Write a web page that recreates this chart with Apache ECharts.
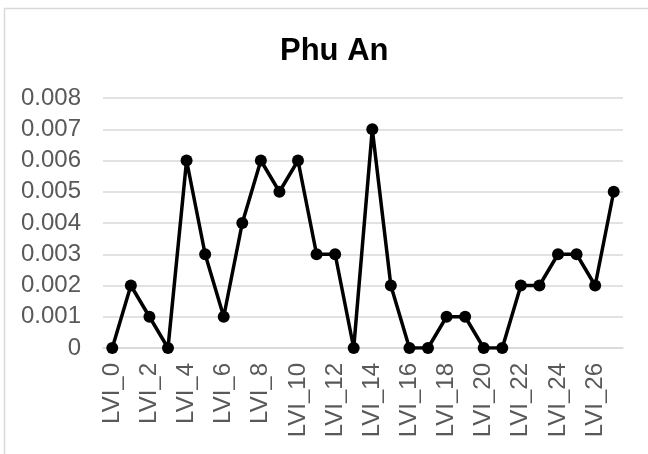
<!DOCTYPE html>
<html>
<head>
<meta charset="UTF-8">
<title>Phu An</title>
<script src="https://cdn.jsdelivr.net/npm/echarts@6/dist/echarts.min.js"></script>
<style>
  html, body { margin: 0; padding: 0; background: #fff; }
  #chart { width: 648px; height: 454px; }
</style>
</head>
<body>
<div id="chart"></div>
<script>
// data
var categories = [];
for (var i = 0; i < 28; i++) categories.push('LVI_' + i);
var values = [0, 0.002, 0.001, 0, 0.006, 0.003, 0.001, 0.004, 0.006, 0.005,
              0.006, 0.003, 0.003, 0, 0.007, 0.002, 0, 0, 0.001, 0.001,
              0, 0, 0.002, 0.002, 0.003, 0.003, 0.002, 0.005];
var yTicks = [0, 0.001, 0.002, 0.003, 0.004, 0.005, 0.006, 0.007, 0.008];

var chart = echarts.init(document.getElementById('chart'));
var font = "'Liberation Sans', Arial, sans-serif";

var option = {
  animation: false,
  title: {
    text: 'Phu An',
    left: 275,
    top: 31,
    textStyle: { fontFamily: font, fontSize: 31, fontWeight: 'bold', color: '#000' }
  },
  graphic: [{
    type: 'rect',
    shape: { x: 4.5, y: 8.5, width: 800, height: 600 },
    style: { fill: 'none', stroke: '#d9d9d9', lineWidth: 1.5 },
    silent: true
  }],
  grid: { left: 103, right: 25, top: 98, bottom: 106 },
  xAxis: {
    type: 'category',
    data: categories,
    axisLine: { lineStyle: { color: '#d9d9d9', width: 1.5 } },
    axisTick: { show: false },
    axisLabel: {
      interval: 1,
      rotate: 90,
      margin: 15,
      color: '#595959',
      fontFamily: font,
      fontSize: 24
    }
  },
  yAxis: {
    type: 'value',
    min: yTicks[0],
    max: yTicks[yTicks.length - 1],
    interval: 0.001,
    axisLine: { show: false },
    axisTick: { show: false },
    splitLine: { lineStyle: { color: '#d9d9d9', width: 1.5 } },
    axisLabel: {
      margin: 22,
      color: '#595959',
      fontFamily: font,
      fontSize: 24,
      formatter: function (v) { return v === 0 ? '0' : v.toFixed(3); }
    }
  },
  series: [{
    type: 'line',
    data: values,
    symbol: 'circle',
    symbolSize: 12,
    lineStyle: { color: '#000', width: 3.5 },
    itemStyle: { color: '#000' }
  }]
};
chart.setOption(option);
</script>
</body>
</html>
